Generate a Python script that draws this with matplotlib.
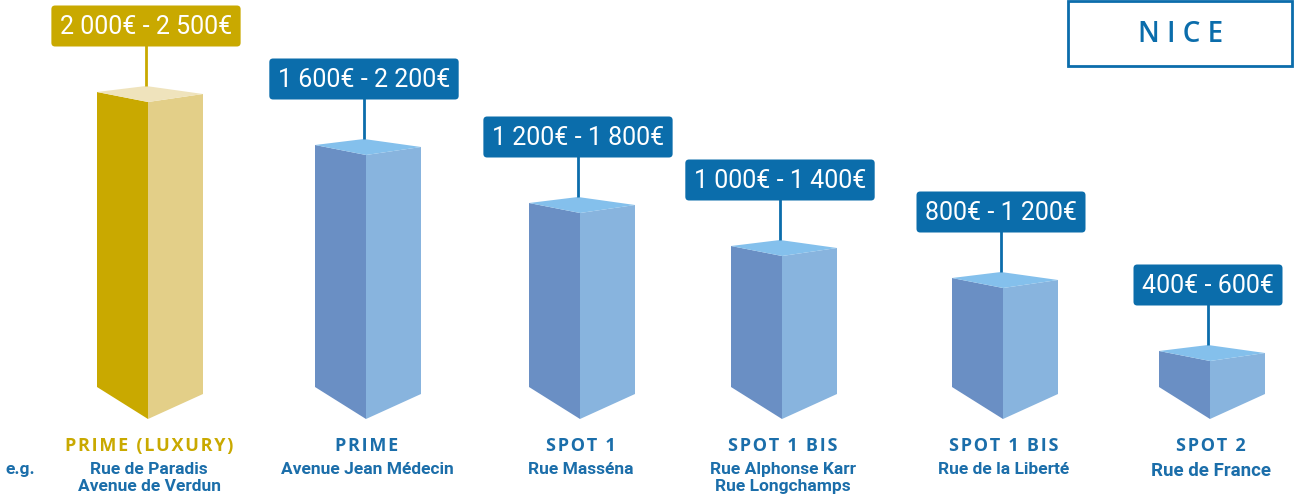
import matplotlib
matplotlib.use("Agg")
import matplotlib.pyplot as plt
from matplotlib.patches import Rectangle

# data
categories = ["PRIME (LUXURY)", "PRIME", "SPOT 1", "SPOT 1 BIS", "SPOT 1 BIS", "SPOT 2"]
streets = ["Rue de Paradis\nAvenue de Verdun", "Avenue Jean Médecin", "Rue Masséna",
           "Rue Alphonse Karr\nRue Longchamps", "Rue de la Liberté", "Rue de France"]
price_ranges = ["2 000€ - 2 500€", "1 600€ - 2 200€", "1 200€ - 1 800€",
                "1 000€ - 1 400€", "800€ - 1 200€", "400€ - 600€"]
bar_heights = [295, 242, 184, 141, 109, 36]   # visual height of each prism (px)
city = "NICE"

# layout (pixel coordinates)
W, H = 1296, 502
bar_x = [148, 366, 580, 782, 1003, 1210]   # front edge of each prism
base = 388

GOLD = ["#C9A900", "#E3CF88", "#EFE3BC"]
BLUE = ["#6A8FC4", "#88B4DE", "#84C0EC"]
GOLD_TXT = "#C9A900"
BLUE_TXT = "#1B6EAA"
BOX_BLUE = "#0B6DAB"
narrow = ["Roboto", "DejaVu Sans"]

fig = plt.figure(figsize=(W / 100, H / 100), dpi=100)
ax = fig.add_axes([0, 0, 1, 1])
ax.set_xlim(0, W)
ax.set_ylim(H, 0)
ax.axis("off")

for i, (f, h) in enumerate(zip(bar_x, bar_heights)):
    cols = GOLD if i == 0 else BLUE
    top = base - h
    # left face, right face, top face
    ax.fill([f - 51, f, f, f - 51], [top, top + 10, base + 32, base], color=cols[0], lw=0)
    ax.fill([f, f + 55, f + 55, f], [top + 10, top + 2, base + 7, base + 32], color=cols[1], lw=0)
    ax.fill([f - 51, f - 2, f + 55, f], [top, top - 6, top + 2, top + 10], color=cols[2], lw=0)

    box_col = GOLD_TXT if i == 0 else BOX_BLUE
    label_y = top - 6 - 60
    ax.plot([f - 2, f - 2], [top - 6, label_y], color=box_col, lw=2, solid_capstyle="butt")
    ax.text(f - 2, label_y, price_ranges[i], color="white", fontsize=18, family=narrow,
            ha="center", va="center",
            bbox=dict(boxstyle="round,pad=0.34,rounding_size=0.15", fc=box_col, ec="none"))

    txt_col = GOLD_TXT if i == 0 else BLUE_TXT
    spaced = "\u200a".join(categories[i])
    ax.text(f + 1, 446, spaced, color=txt_col, fontsize=13, fontweight="bold",
            family=["Open Sans", "DejaVu Sans"], ha="center", va="center")
    ax.text(f + 1, 462, streets[i], color=BLUE_TXT, fontsize=13.5 if i == 5 else 12.5,
            fontweight="bold", family=narrow, ha="center", va="top", linespacing=1.2)

ax.text(20, 470, "e.g.", color=BLUE_TXT, fontsize=12.5, fontweight="bold", family=narrow,
        ha="center", va="center")

ax.add_patch(Rectangle((1068, 2), 224, 65, fc="white", ec=BOX_BLUE, lw=2))
ax.text(1181, 35, " ".join(city), color=BOX_BLUE, fontsize=20,
        fontweight="semibold", family=["Open Sans", "DejaVu Sans"], ha="center", va="center")

fig.savefig("out.png", dpi=100)
